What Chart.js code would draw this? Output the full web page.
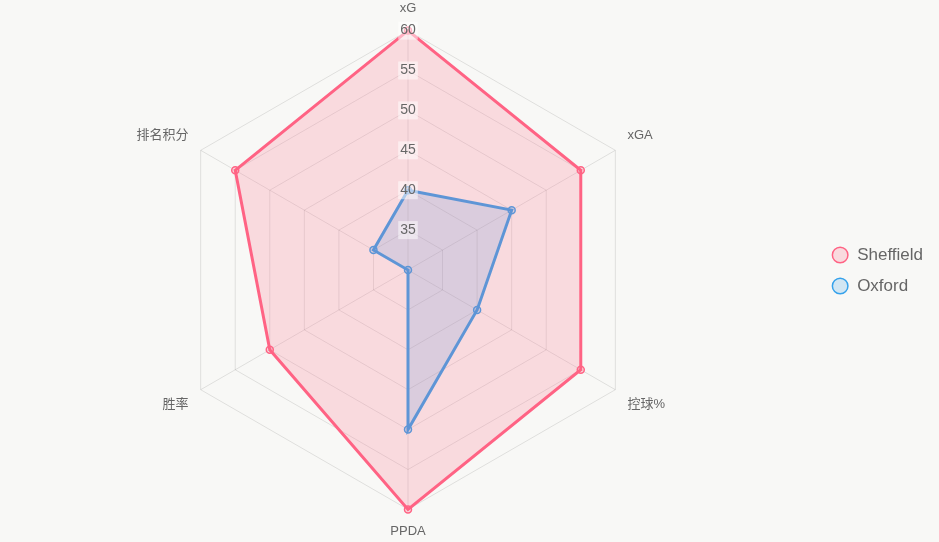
<!DOCTYPE html>
<html>
<head>
<meta charset="utf-8">
<script src="https://cdn.jsdelivr.net/npm/chart.js@4/dist/chart.umd.min.js"></script>
<style>
  html, body { margin: 0; padding: 0; background: #f8f8f6; }
  #wrap { width: 939px; height: 542px; }
</style>
</head>
<body>
<div id="wrap"><canvas id="radar"></canvas></div>
<script>
// radar: Sheffield vs Oxford
const labels = ['xG', 'xGA', '控球%', 'PPDA', '胜率', '排名积分'];
const sheffield = [60, 55, 55, 60, 50, 55];
const oxford = [40, 45, 40, 50, 30, 35];

const font = '"Helvetica Neue", Arial, "Liberation Sans", "Noto Sans CJK SC", sans-serif';
Chart.defaults.font.family = font;
Chart.defaults.color = '#666';

new Chart(document.getElementById('radar'), {
  type: 'radar',
  data: {
    labels,
    datasets: [
      { label: 'Sheffield', data: sheffield, borderColor: 'rgb(255,99,132)', backgroundColor: 'rgba(255,99,132,0.2)',
        borderWidth: 3, pointRadius: 3.5, pointBorderWidth: 1.5, pointBackgroundColor: 'rgba(255,99,132,0.2)' },
      { label: 'Oxford', data: oxford, borderColor: 'rgb(54,162,235)', backgroundColor: 'rgba(54,162,235,0.2)',
        borderWidth: 3, pointRadius: 3.5, pointBorderWidth: 1.5, pointBackgroundColor: 'rgba(54,162,235,0.2)' },
    ],
  },
  options: {
    responsive: true,
    maintainAspectRatio: false,
    animation: false,
    layout: { padding: { right: 6, top: 1, bottom: 2 } },
    plugins: {
      legend: {
        position: 'right',
        labels: { usePointStyle: true, pointStyle: 'circle', boxHeight: 11, padding: 14, font: { size: 17 } },
      },
    },
    scales: {
      r: {
        min: 30,
        max: 60,
        grid: { color: 'rgba(0,0,0,0.1)' },
        angleLines: { color: 'rgba(0,0,0,0.1)' },
        pointLabels: { font: { size: 13 }, color: '#666' },
        ticks: { z: 1, stepSize: 5, font: { size: 14 }, color: '#666', backdropColor: 'rgba(255,255,255,0.5)' },
      },
    },
  },
});
</script>
</body>
</html>
